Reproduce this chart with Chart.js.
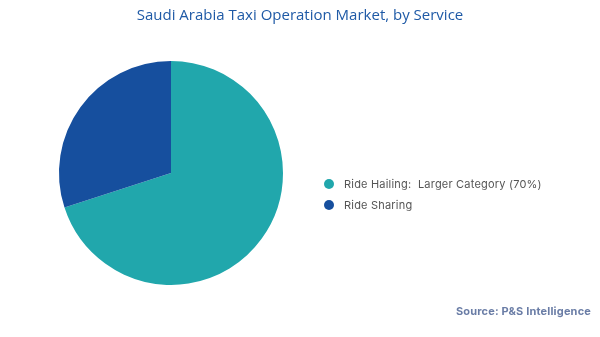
<!DOCTYPE html>
<html>
<head>
<meta charset="utf-8">
<script src="https://cdn.jsdelivr.net/npm/chart.js@4.4.1/dist/chart.umd.min.js"></script>
<style>
  html, body { margin: 0; padding: 0; background: #fff; }
  #wrap { position: relative; width: 600px; height: 337px; overflow: hidden; }
  #c { position: absolute; left: 0; top: 0; }
  #title { position: absolute; left: 0; width: 600px; top: 4px; text-align: center;
    font-family: "Open Sans", "Noto Sans", sans-serif; font-size: 15px; color: #1F5AA6; }
  #legend { position: absolute; left: 324px; top: 176px; font-family: Inter, "Noto Sans", sans-serif;
    font-size: 11px; color: #555; letter-spacing: 0.2px; }
  .row { height: 21px; line-height: 16px; white-space: pre; }
  .dot { display: inline-block; width: 10px; height: 10px; border-radius: 50%; vertical-align: -1px; margin-right: 10px; }
  #source { position: absolute; right: 9px; top: 304px; font-family: Inter, "Noto Sans", sans-serif;
    font-weight: 700; font-size: 11px; color: #6A7DA6; letter-spacing: 0.17px; }
</style>
</head>
<body>
<div id="wrap">
  <canvas id="c" width="600" height="337"></canvas>
  <div id="title"></div>
  <div id="legend"></div>
  <div id="source"></div>
</div>
<script>
const titleText = "Saudi Arabia Taxi Operation Market, by Service";
const sourceText = "Source: P&S Intelligence";
const categories = ["Ride Hailing", "Ride Sharing"];
const legendSuffix = [":  Larger Category (70%)", ""];
const shares = [70, 30];
const colors = ["#21A7AC", "#164F9E"];

document.getElementById("title").textContent = titleText;
document.getElementById("source").textContent = sourceText;
const lg = document.getElementById("legend");
categories.forEach((c, i) => {
  const row = document.createElement("div");
  row.className = "row";
  const d = document.createElement("span");
  d.className = "dot";
  d.style.background = colors[i];
  row.appendChild(d);
  row.appendChild(document.createTextNode(c + legendSuffix[i]));
  lg.appendChild(row);
});

new Chart(document.getElementById("c"), {
  type: "pie",
  data: {
    labels: categories,
    datasets: [{ data: shares, backgroundColor: colors, borderWidth: 0, hoverOffset: 0 }]
  },
  options: {
    responsive: false,
    animation: false,
    layout: { padding: { left: 59, right: 317, top: 61, bottom: 52 } },
    plugins: { legend: { display: false }, title: { display: false }, tooltip: { enabled: false } }
  }
});
</script>
</body>
</html>
